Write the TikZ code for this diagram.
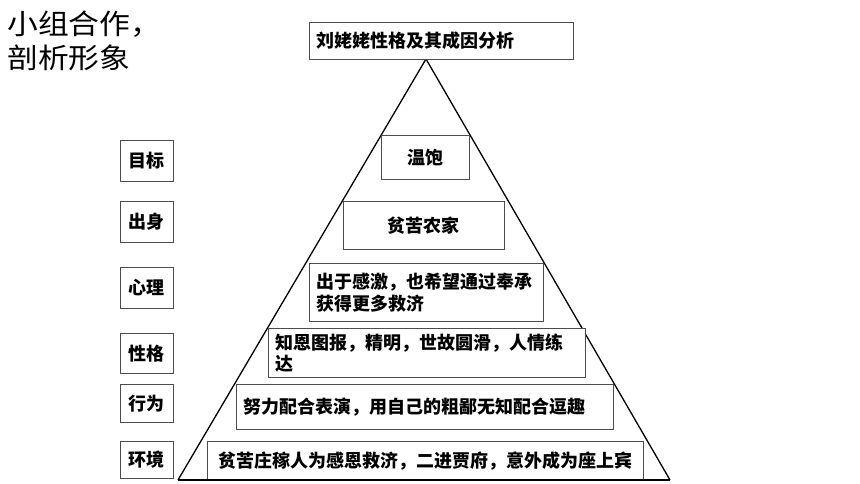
\documentclass[tikz,border=0pt]{standalone}
\usepackage{fontspec}
\setmainfont{Noto Sans CJK SC}
\newfontfamily\titlefont[FakeStretch=1.1]{Noto Sans CJK SC}
\begin{document}
\begin{tikzpicture}[x=1pt,y=-1pt,
  box/.style={draw=black!70, line width=0.8pt, fill=white, anchor=north west,
    inner ysep=0pt, font=\bfseries\fontsize{18}{21.5}\selectfont},
  lbox/.style={box, align=left, inner xsep=7pt},
  cbox/.style={box, align=center, inner xsep=0pt},
  tri/.style={line width=1.3pt, black},
  base/.style={line width=2pt, black},
  title/.style={anchor=base west, inner sep=0pt, font=\titlefont\fontsize{28}{34}\selectfont}]
\useasboundingbox (0,0) rectangle (860,484);
% title
\node[title] (t1) at (7,35) {小组合作，};
\node[title] (t2) at (7,69) {剖析形象};
% triangle
\coordinate (apex) at (426,59);
\coordinate (bl) at (178,480);
\coordinate (br) at (670,480);
\draw[tri] (bl) -- (apex) -- (br);
% top box
\node[lbox, minimum width=264pt, minimum height=37pt, text width=250pt] (top) at (309,22) {刘姥姥性格及其成因分析};
% pyramid boxes
\node[cbox, minimum width=88pt, minimum height=44pt] (b1) at (381,135) {温饱};
\node[cbox, minimum width=161pt, minimum height=48pt] (b2) at (343,201) {贫苦农家};
\node[lbox, minimum width=234pt, minimum height=58pt, text width=220pt] (b3) at (309,263) {出于感激，也希望通过奉承\\获得更多救济};
\node[lbox, minimum width=317pt, minimum height=49pt, text width=303pt] (b4) at (268,328) {知恩图报，精明，世故圆滑，人情练\\达};
\node[lbox, minimum width=377pt, minimum height=45pt, text width=363pt] (b5) at (236,384) {努力配合表演，用自己的粗鄙无知配合逗趣};
\node[cbox, minimum width=436pt, minimum height=39pt] (b6) at (207,441) {贫苦庄稼人为感恩救济，二进贾府，意外成为座上宾};
% labels
\node[cbox, minimum width=53pt, minimum height=41pt] (l1) at (120,140) {目标};
\node[cbox, minimum width=53pt, minimum height=41pt] (l2) at (120,201) {出身};
\node[cbox, minimum width=53pt, minimum height=41pt] (l3) at (120,267) {心理};
\node[cbox, minimum width=53pt, minimum height=40pt] (l4) at (120,333) {性格};
\node[cbox, minimum width=53pt, minimum height=38pt] (l5) at (120,384) {行为};
\node[cbox, minimum width=53pt, minimum height=37pt] (l6) at (120,441) {环境};
% base
\draw[base] (bl) -- (br);
\end{tikzpicture}
\end{document}
